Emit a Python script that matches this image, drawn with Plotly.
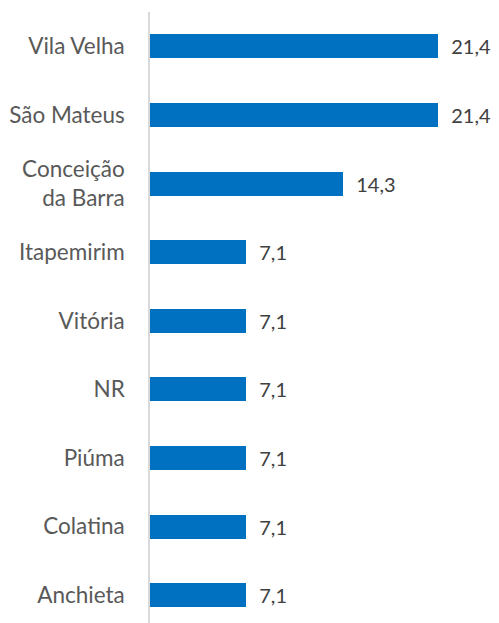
import plotly.graph_objects as go

# municipalities, top to bottom, and their share (%)
municipios = [
    "Vila Velha",
    "São Mateus",
    "Conceição<br>da Barra",
    "Itapemirim",
    "Vitória",
    "NR",
    "Piúma",
    "Colatina",
    "Anchieta",
]
percentuais = [21.4, 21.4, 14.3, 7.1, 7.1, 7.1, 7.1, 7.1, 7.1]

FONT = "Lato, 'Open Sans', sans-serif"
BLUE = "#0070C0"

fig = go.Figure(
    go.Bar(
        x=percentuais,
        y=list(range(len(municipios))),
        orientation="h",
        marker=dict(color=BLUE, line=dict(width=0)),
        width=0.35,
        text=percentuais,
        texttemplate="\u00a0\u00a0%{x:.1f}",
        textposition="outside",
        textfont=dict(family=FONT, size=22.5, color="#404040"),
        cliponaxis=False,
    )
)

# the page body adds ~8px around the figure, so margins are trimmed by that
fig.update_layout(
    width=499,
    height=623,
    margin=dict(l=142, r=0, t=4, b=0),
    paper_bgcolor="white",
    plot_bgcolor="white",
    separators=",.",
    showlegend=False,
    bargap=0,
)
fig.update_xaxes(
    range=[0, 26.52],
    visible=False,
    automargin=False,
)
fig.update_yaxes(
    tickmode="array",
    tickvals=list(range(len(municipios))),
    ticktext=municipios,
    range=[8.523, -0.5],
    automargin=False,
    showgrid=False,
    zeroline=False,
    showline=True,
    linecolor="#D9D9D9",
    linewidth=1.5,
    ticks="",
    ticklabelstandoff=19,
    tickfont=dict(family=FONT, size=22.5, color="#595959"),
)

fig.write_html("out.html")
